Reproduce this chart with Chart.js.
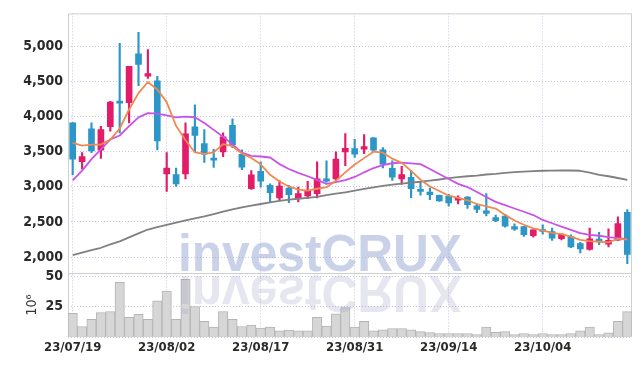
<!DOCTYPE html>
<html>
<head>
<meta charset="utf-8">
<script src="https://cdn.jsdelivr.net/npm/chart.js@4/dist/chart.umd.min.js"></script>
<style>
  html, body { margin: 0; padding: 0; background: #fff; }
  #wrap { width: 642px; height: 366px; }
</style>
</head>
<body>
<div id="wrap"><canvas id="chart"></canvas></div>
<script>
const dates = [
  '23/07/19', '23/07/20', '23/07/21', '23/07/24', '23/07/25', '23/07/26', '23/07/27', '23/07/28', '23/07/31', '23/08/01',
  '23/08/02', '23/08/03', '23/08/04', '23/08/07', '23/08/08', '23/08/09', '23/08/10', '23/08/11', '23/08/14', '23/08/16',
  '23/08/17', '23/08/18', '23/08/21', '23/08/22', '23/08/23', '23/08/24', '23/08/25', '23/08/28', '23/08/29', '23/08/30',
  '23/08/31', '23/09/01', '23/09/04', '23/09/05', '23/09/06', '23/09/07', '23/09/08', '23/09/11', '23/09/12', '23/09/13',
  '23/09/14', '23/09/15', '23/09/18', '23/09/19', '23/09/20', '23/09/21', '23/09/22', '23/09/25', '23/09/26', '23/09/27',
  '23/10/04', '23/10/05', '23/10/06', '23/10/10', '23/10/11', '23/10/12', '23/10/13', '23/10/16', '23/10/17', '23/10/18'
];

const opens = [
  3909, 3357, 3824, 3520, 3857, 4218, 4199, 4892, 4573, 4508,
  3183, 3174, 3183, 3853, 3614, 3403, 3497, 3876, 3463, 2972,
  3220, 3020, 2841, 2982, 2841, 2869, 2902, 3112, 3112, 3497,
  3544, 3534, 3698, 3525, 3263, 3112, 3136, 2958, 2926, 2879,
  2865, 2809, 2855, 2729, 2659, 2560, 2584, 2434, 2434, 2303,
  2387, 2364, 2261, 2293, 2191, 2107, 2256, 2185, 2240, 2635
];
const highs = [
  3915, 3487, 3909, 3862, 4218, 5042, 4713, 5197, 4952, 4573,
  3487, 3267, 3909, 4166, 3815, 3534, 3768, 3969, 3525, 3230,
  3357, 3042, 3090, 3020, 2996, 3076, 3357, 3371, 3497, 3758,
  3674, 3744, 3700, 3558, 3371, 3291, 3230, 3066, 2982, 2882,
  2893, 2870, 2860, 2757, 2902, 2598, 2607, 2472, 2436, 2390,
  2458, 2411, 2330, 2317, 2209, 2411, 2350, 2400, 2574, 2677
];
const lows = [
  3174, 3253, 3487, 3403, 3792, 3768, 3909, 4438, 4541, 3525,
  2935, 3010, 3112, 3497, 3347, 3277, 3427, 3558, 3244, 2963,
  2996, 2785, 2809, 2775, 2785, 2832, 2841, 3066, 3090, 3300,
  3417, 3473, 3501, 3267, 3090, 3034, 2846, 2879, 2818, 2790,
  2725, 2757, 2691, 2631, 2584, 2504, 2424, 2378, 2293, 2284,
  2326, 2237, 2242, 2135, 2059, 2097, 2177, 2145, 2237, 1907
];
const closes = [
  3393, 3431, 3511, 3815, 4204, 4190, 4713, 4742, 4611, 3652,
  3267, 3042, 3754, 3730, 3463, 3379, 3712, 3596, 3281, 3169,
  3080, 2916, 3010, 2888, 2902, 2935, 3112, 3080, 3393, 3548,
  3463, 3572, 3520, 3323, 3136, 3174, 2972, 2935, 2888, 2799,
  2771, 2841, 2747, 2677, 2621, 2518, 2440, 2396, 2320, 2387,
  2364, 2270, 2326, 2143, 2115, 2261, 2223, 2237, 2478, 2036
];

// moving average lines
const ma5 = [
  3625, 3585, 3600, 3600, 3671, 3830, 4100, 4333, 4492, 4385,
  4205, 3865, 3665, 3489, 3470, 3490, 3608, 3578, 3475, 3410,
  3320, 3170, 3075, 3005, 2960, 2945, 2972, 2995, 3087, 3205,
  3318, 3408, 3500, 3486, 3400, 3340, 3227, 3100, 3005, 2940,
  2873, 2842, 2808, 2755, 2722, 2690, 2600, 2520, 2460, 2408,
  2378, 2344, 2326, 2290, 2245, 2228, 2218, 2210, 2260, 2247
];
const ma10 = [
  3090, 3230, 3393, 3534, 3674, 3730, 3862, 3989, 4049, 4040,
  4017, 3989, 3998, 3990, 3909, 3810, 3712, 3604, 3487, 3441,
  3431, 3417, 3323, 3253, 3197, 3150, 3098, 3042, 3066, 3095,
  3140, 3206, 3267, 3309, 3335, 3345, 3333, 3323, 3253, 3183,
  3112, 3042, 2996, 2926, 2855, 2785, 2739, 2691, 2645, 2598,
  2528, 2481, 2434, 2387, 2340, 2317, 2303, 2284, 2270, 2256
];
const maLong = [
  2026, 2064, 2098, 2132, 2180, 2222, 2280, 2337, 2392, 2425,
  2458, 2491, 2523, 2550, 2578, 2612, 2646, 2680, 2706, 2732,
  2755, 2778, 2800, 2816, 2830, 2843, 2857, 2880, 2902, 2922,
  2945, 2970, 2992, 3012, 3030, 3045, 3060, 3072, 3088, 3104,
  3122, 3138, 3150, 3160, 3175, 3185, 3198, 3208, 3216, 3222,
  3228, 3230, 3232, 3232, 3228, 3200, 3170, 3150, 3125, 3100
];

// volume in millions
const volumes = [
  19.5, 8.7, 14.7, 20.3, 21.1, 45.3, 16.3, 18.7, 14.7, 30,
  38, 14.7, 47.7, 25.2, 13, 8.2, 21.1, 14.7, 8.7, 9.8,
  7.4, 8.2, 5, 5.8, 5, 5, 16.3, 9, 19.2, 24.3,
  8.2, 13, 5, 6, 7, 7, 6, 4.5, 3.7, 2.9,
  2.9, 2.9, 2.9, 2.1, 8.2, 3.8, 4.5, 2.1, 2.9, 2.1,
  2.9, 2.1, 2.1, 2.9, 5, 8.2, 2.1, 3.5, 13, 21
];

const priceTicks = [2000, 2500, 3000, 3500, 4000, 4500, 5000];
const volumeTicks = [0, 25, 50];

const UP = '#e31c6a';
const DOWN = '#2c96c8';
const GRID = '#c6c6dc';
const FONT = "'Liberation Sans Narrow', 'DejaVu Sans Condensed', sans-serif";

const candleColors = opens.map((o, i) => closes[i] >= o ? UP : DOWN);

const framePlugin = {
  id: 'frame',
  beforeDatasetsDraw(chart) {
    const { ctx, chartArea: a, scales } = chart;
    ctx.save();
    ctx.strokeStyle = '#cfcfcf';
    ctx.lineWidth = 1;
    ctx.strokeRect(a.left + 0.5, a.top + 0.5, a.width - 1, a.height - 1);
    const ySep = Math.round(scales.yv.top) + 0.5;
    ctx.beginPath();
    ctx.moveTo(a.left, ySep);
    ctx.lineTo(a.right, ySep);
    ctx.stroke();
    ctx.restore();
  },
  afterDatasetsDraw(chart) {
    const { ctx, chartArea: a, scales } = chart;
    const text = 'investCRUX';
    const mirror = scales.y.bottom + 0.5;
    ctx.save();
    ctx.font = 'bold 51px "Liberation Sans", sans-serif';
    const w = ctx.measureText(text).width;
    ctx.translate(a.left + 110, mirror);
    ctx.scale(284 / w, 1);
    ctx.fillStyle = 'rgba(150, 165, 212, 0.5)';
    ctx.fillText(text, 0, -2.5);
    ctx.scale(1, -1);
    ctx.fillStyle = 'rgba(150, 155, 190, 0.25)';
    ctx.fillText(text, 0, -2.5);
    ctx.restore();
  }
};

new Chart(document.getElementById('chart'), {
  data: {
    labels: dates,
    datasets: [
      {
        type: 'line', data: ma5, yAxisID: 'y', order: 0,
        borderColor: '#f0894f', borderWidth: 1.8, pointRadius: 0, borderJoinStyle: 'round'
      },
      {
        type: 'line', data: ma10, yAxisID: 'y', order: 0,
        borderColor: '#c853e8', borderWidth: 1.8, pointRadius: 0, borderJoinStyle: 'round'
      },
      {
        type: 'line', data: maLong, yAxisID: 'y', order: 0,
        borderColor: '#808080', borderWidth: 1.8, pointRadius: 0, borderJoinStyle: 'round'
      },
      {
        type: 'bar', yAxisID: 'y', order: 1, grouped: false,
        data: opens.map((o, i) => [o, closes[i]]),
        backgroundColor: candleColors, barThickness: 6, minBarLength: 2
      },
      {
        type: 'bar', yAxisID: 'y', order: 2, grouped: false,
        data: lows.map((l, i) => [l, highs[i]]),
        backgroundColor: candleColors, barThickness: 1.5
      },
      {
        type: 'bar', yAxisID: 'yv', order: 3, grouped: false,
        data: volumes,
        backgroundColor: '#d6d6d6', borderColor: '#b4b4b4', borderWidth: 1,
        barPercentage: 1, categoryPercentage: 1
      }
    ]
  },
  options: {
    responsive: true,
    maintainAspectRatio: false,
    animation: false,
    devicePixelRatio: 1,
    layout: { padding: { left: 0, right: 10, top: 9, bottom: 0 } },
    plugins: {
      legend: { display: false },
      tooltip: { enabled: false }
    },
    scales: {
      x: {
        type: 'category',
        offset: true,
        grid: {
          offset: false,
          drawTicks: false,
          color: (c) => c.index % 10 === 0 ? GRID : 'transparent'
        },
        border: { display: false, dash: [1, 2] },
        ticks: {
          autoSkip: false, maxRotation: 0, padding: 3, color: '#2a2a2a',
          font: { family: FONT, size: 13, weight: 'bold' },
          callback: (v, i) => i % 10 === 0 ? dates[i] : ''
        },
        afterFit: (s) => { s.height = 29; }
      },
      yv: {
        type: 'linear', position: 'left', stack: 'panes', stackWeight: 1,
        min: 0, max: 53,
        grid: { color: GRID, drawTicks: false },
        border: { display: false, dash: [1, 2] },
        title: {
          display: true, text: '10\u2076', color: '#333',
          font: { family: FONT, size: 14 },
          padding: { top: 24, bottom: 0 }
        },
        afterBuildTicks: (s) => { s.ticks = volumeTicks.map((v) => ({ value: v })); },
        ticks: {
          autoSkip: false, padding: 5, color: '#2a2a2a',
          font: { family: FONT, size: 14, weight: 'bold' },
          callback: (v) => v === 0 ? '' : v
        },
        afterFit: (s) => { s.width = 68; }
      },
      y: {
        type: 'linear', position: 'left', stack: 'panes', stackWeight: 4.05,
        min: 1774, max: 5468,
        grid: { color: GRID, drawTicks: false },
        border: { display: false, dash: [1, 2] },
        afterBuildTicks: (s) => { s.ticks = priceTicks.map((v) => ({ value: v })); },
        ticks: {
          autoSkip: false, padding: 5, color: '#2a2a2a',
          font: { family: FONT, size: 14, weight: 'bold' }
        },
        afterFit: (s) => { s.width = 68; }
      }
    }
  },
  plugins: [framePlugin]
});
</script>
</body>
</html>
